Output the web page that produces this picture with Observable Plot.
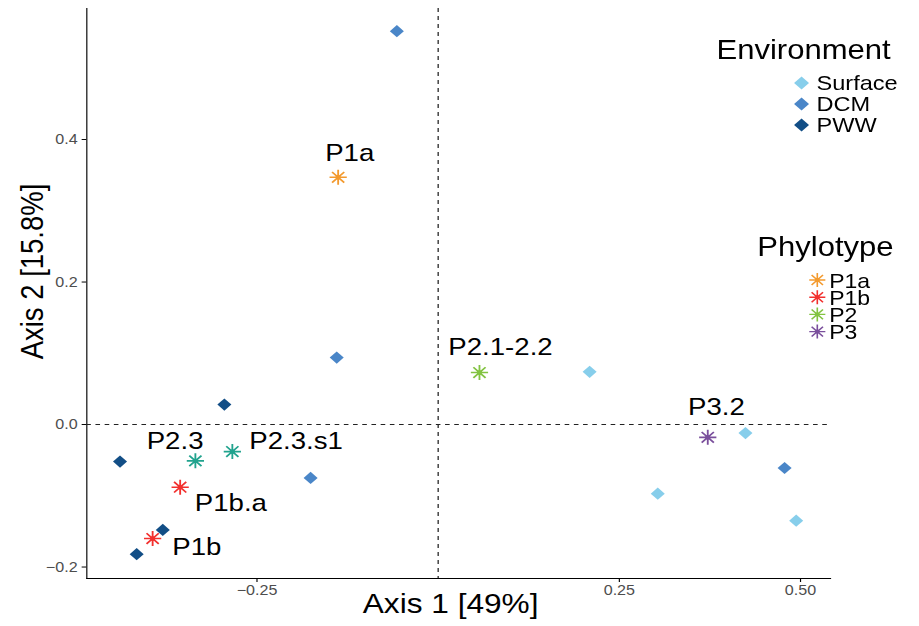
<!DOCTYPE html>
<html>
<head>
<meta charset="utf-8">
<script src="https://cdn.jsdelivr.net/npm/d3@7"></script>
<script src="https://cdn.jsdelivr.net/npm/@observablehq/plot@0.6"></script>
<style>
  html, body { margin: 0; padding: 0; background: #fff; }
  #wrap { width: 799px; height: 626px; transform: scaleX(1.15); transform-origin: 0 0; }
  #wrap svg { overflow: visible; }
  g[aria-label^="x-axis"] text, g[aria-label^="y-axis"] text { fill: #4d4d4d; }
</style>
</head>
<body>
<div id="wrap"></div>
<script>
// ---- data ----
const siteEnv = ["DCM", "DCM", "PWW", "PWW", "DCM", "PWW", "PWW", "Surface", "Surface", "DCM", "Surface", "Surface"];
const siteX   = [-0.057, -0.140, -0.295, -0.439, -0.176, -0.380, -0.416, 0.209, 0.424, 0.478, 0.303, 0.494];
const siteY   = [0.552, 0.094, 0.028, -0.052, -0.075, -0.148, -0.182, 0.074, -0.012, -0.061, -0.097, -0.135];

const phyloName  = ["P1a", "P2.1-2.2", "P3.2", "P2.3", "P2.3.s1", "P1b.a", "P1b"];
const phyloGroup = ["P1a", "P2", "P3", "P2.3", "P2.3", "P1b", "P1b"];
const phyloX     = [-0.138, 0.057, 0.372, -0.335, -0.284, -0.356, -0.394];
const phyloY     = [0.347, 0.073, -0.018, -0.051, -0.038, -0.088, -0.160];
const labelX     = [-0.122, 0.086, 0.384, -0.363, -0.196, -0.286, -0.333];
const labelY     = [0.381, 0.108, 0.024, -0.023, -0.023, -0.111, -0.173];

const envLevels   = ["Surface", "DCM", "PWW"];
const envColors   = ["#87CEEB", "#4A86C8", "#124E86"];
const phyloLevels = ["P1a", "P1b", "P2", "P3", "P2.3"];
const phyloColors = ["#F39A2E", "#F2302E", "#82C341", "#7A4F9C", "#21A38E"];
const legendPhylo = ["P1a", "P1b", "P2", "P3"];

const xTicks = [-0.25, 0.25, 0.5];
const yTicks = [-0.2, 0.0, 0.2, 0.4];
const xTitle = "Axis 1 [49%]";
const yTitle = "Axis 2 [15.8%]";

// ---- tables ----
const sites = siteEnv.map((e, i) => ({env: e, x: siteX[i], y: siteY[i]}));
const phylo = phyloName.map((n, i) => ({name: n, group: phyloGroup[i], x: phyloX[i], y: phyloY[i], lx: labelX[i], ly: labelY[i]}));

const FONT = "'Liberation Sans', Arial, Helvetica, sans-serif";

const star8 = {
  draw(ctx, size) {
    const r = Math.sqrt(size / Math.PI);
    const d = r * Math.SQRT1_2;
    ctx.moveTo(-r, 0); ctx.lineTo(r, 0);
    ctx.moveTo(0, -r); ctx.lineTo(0, r);
    ctx.moveTo(-d, -d); ctx.lineTo(d, d);
    ctx.moveTo(-d, d); ctx.lineTo(d, -d);
  }
};

const chart = Plot.plot({
  width: 799,
  height: 626,
  marginLeft: 75,
  marginRight: 77.3,
  marginTop: 8,
  marginBottom: 48,
  style: {fontFamily: FONT, fontSize: "14px", background: "white", color: "black"},
  x: {domain: [-0.4848, 0.5414], ticks: xTicks, tickFormat: d3.format(".2f"), tickSize: 4, tickPadding: 3, line: true, label: null},
  y: {domain: [-0.2161, 0.5839], ticks: yTicks, tickFormat: d3.format(".1f"), tickSize: 4, tickPadding: 4, line: true, label: null},
  color: {domain: [...envLevels, ...phyloLevels], range: [...envColors, ...phyloColors]},
  marks: [
    Plot.ruleX([0], {stroke: "#222", strokeWidth: 1.1, strokeDasharray: "4,4"}),
    Plot.ruleY([0], {stroke: "#222", strokeWidth: 1.1, strokeDasharray: "4,4"}),
    Plot.dot(sites, {x: "x", y: "y", symbol: "diamond2", r: 5.5, fill: "env", stroke: "none"}),
    Plot.dot(phylo, {x: "x", y: "y", symbol: star8, r: 7.5, fill: "none", stroke: "group", strokeWidth: 1.6}),
    Plot.dot(phylo, {x: "x", y: "y", r: 2.2, fill: "group", stroke: "none"}),
    Plot.text(phylo, {x: "lx", y: "ly", text: "name", fontSize: 24, fill: "black", textAnchor: "middle", lineAnchor: "middle"}),
    Plot.text([xTitle], {frameAnchor: "bottom", textAnchor: "middle", lineAnchor: "middle", dx: -7, dy: 26, fontSize: 27.5, fill: "black"}),
    Plot.text([yTitle], {frameAnchor: "left", textAnchor: "middle", lineAnchor: "middle", rotate: -90, dx: -47, dy: -22, fontSize: 27.5, fill: "black"})
  ]
});

document.getElementById("wrap").appendChild(chart);

// ---- legends ----
const svg = d3.select(chart);
const lg = svg.append("g").attr("font-family", FONT).attr("fill", "black").attr("text-anchor", "start");
lg.append("text").attr("x", 623).attr("y", 59.5).attr("font-size", 27).attr("text-anchor", "start").text("Environment");
envLevels.forEach((e, i) => {
  lg.append("path")
    .attr("transform", `translate(697,${83 + i * 21})`)
    .attr("d", d3.symbol(d3.symbolDiamond2, 108)())
    .attr("fill", envColors[i]);
  lg.append("text").attr("x", 710).attr("y", 90.5 + i * 21).attr("font-size", 20.5).attr("text-anchor", "start").text(e);
});
lg.append("text").attr("x", 658.5).attr("y", 256.5).attr("font-size", 27).attr("text-anchor", "start").text("Phylotype");
legendPhylo.forEach((p, i) => {
  const c = phyloColors[phyloLevels.indexOf(p)];
  const g = lg.append("g").attr("transform", `translate(710.7,${280 + i * 17.2})`);
  g.append("path").attr("d", d3.symbol(star8, Math.PI * 7 * 7)()).attr("fill", "none").attr("stroke", c).attr("stroke-width", 1.4);
  g.append("circle").attr("r", 2).attr("fill", c);
  lg.append("text").attr("x", 721).attr("y", 287.7 + i * 17.2).attr("font-size", 20).attr("text-anchor", "start").text(p);
});
</script>
</body>
</html>
